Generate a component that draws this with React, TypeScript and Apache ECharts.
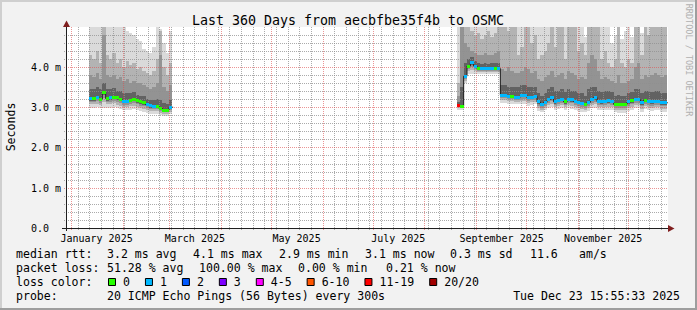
import React, { useEffect, useRef } from "react";
import * as echarts from "echarts";

// ---------- time frame ----------
const END_TIME = Date.UTC(2025, 11, 23, 15, 55, 33);
const RANGE_DAYS = 360;
const START_TIME = END_TIME - RANGE_DAYS * 86400000;
const dayOf = (y: number, m: number, d: number) => (Date.UTC(y, m, d) - START_TIME) / 86400000;

const BIN_DAYS = 2;
const LEFT_START_DAY = 13.8;
const RIGHT_START_DAY = 234.6;

// ---------- data: first block (Jan - Feb 2025) ----------
const leftMedian = [3.22, 3.22, 3.25, 3.21, 3.38, 3.22, 3.24, 3.26, 3.24, 3.2, 3.15, 3.15, 3.18, 3.2, 3.17, 3.14, 3.12, 3.07, 3.04, 3.03, 3.03, 2.98, 2.94, 2.94, 3.01];
const leftLoss = [1, 0, 1, 0, 0, 0, 1, 0, 0, 0, 1, 1, 0, 0, 0, 0, 0, 1, 1, 1, 0, 0, 0, 0, 1];
const leftLo = [3.0, 3.0, 3.02, 2.98, 3.0, 3.0, 3.0, 3.02, 2.98, 2.97, 2.94, 2.93, 2.95, 2.97, 2.94, 2.92, 2.9, 2.86, 2.84, 2.84, 2.85, 2.82, 2.8, 2.8, 2.84];
const leftU4 = [3.45, 3.45, 3.5, 3.45, 3.6, 3.45, 3.45, 3.48, 3.42, 3.4, 3.35, 3.35, 3.35, 3.38, 3.32, 3.3, 3.28, 3.22, 3.2, 3.2, 3.22, 3.2, 3.12, 3.1, 3.18];
const leftU3 = [3.8, 3.75, 3.85, 3.7, 4.8, 3.8, 3.75, 3.8, 3.7, 3.75, 3.65, 3.7, 3.6, 3.65, 3.6, 3.6, 3.55, 3.5, 3.45, 3.5, 3.6, 4.3, 3.5, 3.4, 3.55];
const leftU2 = [4.3, 4.2, 4.4, 4.1, 5.0, 4.3, 4.2, 4.35, 4.1, 4.2, 4.0, 4.15, 4.05, 4.1, 3.95, 4.0, 3.9, 3.85, 3.8, 3.9, 4.2, 4.9, 4.0, 3.8, 4.1];
const leftU1 = [5, 5, 5, 5, 5, 5, 5, 5, 5, 5, 5, 4.9, 4.85, 4.8, 4.7, 4.65, 4.45, 4.4, 4.35, 4.5, 5, 4.95, 4.6, 4.35, 4.9];

// ---------- data: second block (late Aug - Dec 2025) ----------
const rightMedian = [
  3.05, 3.03, 3.78, 4.03, 4.11, 4.03, 3.97, 3.96, 3.97, 3.96, 3.97, 3.98, 3.97,
  3.31, 3.31, 3.28, 3.27, 3.26, 3.26, 3.3, 3.3, 3.24, 3.26, 3.28, 3.14, 3.07, 3.13, 3.2, 3.24, 3.14, 3.18,
  3.2, 3.14, 3.2, 3.19, 3.15, 3.12, 3.1, 3.08, 3.13, 3.2, 3.25, 3.15, 3.14, 3.15, 3.17, 3.16, 3.08, 3.07, 3.07, 3.08, 3.14, 3.17, 3.21, 3.2, 3.12, 3.18, 3.15, 3.14, 3.15, 3.15, 3.12, 3.12,
];
const rightLoss = [
  6, 0, 1, 0, 1, 1, 0, 1, 1, 1, 1, 0, 1,
  1, 1, 1, 0, 1, 1, 1, 1, 1, 1, 1, 1, 1, 1, 1, 1, 1, 1,
  1, 0, 1, 1, 1, 1, 1, 0, 1, 1, 1, 1, 1, 1, 1, 1, 0, 0, 0, 0, 1, 0, 1, 1, 1, 0, 1, 1, 1, 1, 1, 1,
];
const rightLo = [
  2.95, 2.95, 3.6, 3.83, 3.83, 3.83, 3.83, 3.83, 3.83, 3.83, 3.83, 3.83, 3.83,
  3.12, 3.12, 3.1, 3.1, 3.08, 3.08, 3.1, 3.1, 3.05, 3.06, 3.08, 2.92, 2.88, 2.93, 2.98, 3.02, 2.94, 2.96,
  2.98, 2.94, 2.98, 2.97, 2.94, 2.92, 2.9, 2.88, 2.92, 2.98, 3.0, 2.94, 2.93, 2.94, 2.95, 2.95, 2.88, 2.86, 2.86, 2.87, 2.92, 2.95, 2.98, 2.98, 2.9, 2.96, 2.93, 2.92, 2.93, 2.93, 2.9, 2.9,
];
const rightU4 = [
  3.15, 3.5, 4.1, 4.2, 4.25, 4.15, 4.1, 4.08, 4.1, 4.08, 4.1, 4.1, 4.1,
  3.55, 3.55, 3.5, 3.5, 3.5, 3.5, 3.55, 3.55, 3.5, 3.5, 3.5, 3.35, 3.3, 3.35, 3.45, 3.5, 3.4, 3.42,
  3.45, 3.38, 3.45, 3.42, 3.4, 3.35, 3.35, 3.3, 3.45, 3.5, 3.5, 3.4, 3.38, 3.4, 3.4, 3.38, 3.3, 3.32, 3.3, 3.3, 3.35, 3.38, 3.45, 3.45, 3.35, 3.42, 3.4, 3.38, 3.4, 3.4, 3.36, 3.36,
];
const rightU3 = [
  3.3, 5.0, 4.6, 4.5, 4.4, 4.35, 4.3, 4.3, 4.35, 4.3, 4.3, 4.35, 4.4,
  3.95, 3.9, 4.0, 3.9, 3.85, 3.85, 3.9, 4.0, 3.95, 3.85, 3.9, 3.7, 3.65, 3.75, 3.8, 3.9, 3.75, 3.8,
  3.85, 3.7, 3.9, 3.85, 3.8, 3.7, 3.75, 3.7, 4.1, 4.3, 4.2, 3.9, 3.7, 3.75, 3.7, 3.65, 3.6, 3.8, 3.6, 3.6, 3.65, 3.7, 4.0, 4.1, 3.7, 3.8, 3.75, 3.8, 3.85, 3.8, 3.75, 3.8,
];
const rightU2 = [
  3.6, 5.0, 5.0, 5.0, 4.9, 4.8, 4.85, 4.7, 4.8, 4.9, 4.75, 4.85, 5.0,
  5.0, 5.0, 4.9, 5.0, 5.0, 4.3, 4.5, 5.0, 5.0, 4.6, 4.8, 4.2, 4.3, 4.4, 4.6, 5.0, 4.5, 5.0,
  5.0, 4.2, 5.0, 5.0, 5.0, 4.4, 4.6, 4.3, 5.0, 5.0, 5.0, 5.0, 4.2, 4.4, 4.1, 4.0, 4.2, 5.0, 4.1, 4.0, 4.2, 4.1, 5.0, 5.0, 4.3, 5.0, 4.8, 5.0, 5.0, 5.0, 5.0, 5.0,
];
const rightU1 = [
  5, 5, 5, 5, 5, 5, 5, 5, 5, 5,
  5, 5, 5, 5, 5, 5, 5, 5, 5, 5,
  5, 5, 5, 5, 5, 5, 5, 5, 5, 5,
  5, 5, 5, 5, 5, 5, 5, 5, 4.75, 4.85,
  5, 5, 5, 5, 5, 5, 4.6, 4.8, 5, 4.7,
  4.9, 5, 4.75, 5, 5, 4.85, 5, 5, 5, 5,
  5, 5, 5,
];

// ---------- labels ----------
const TITLE = "Last 360 Days from aecbfbe35f4b to OSMC";
const Y_NAME = "Seconds";
const WATERMARK = "RRDTOOL / TOBI OETIKER";
const Y_TICKS = [0, 1, 2, 3, 4];
const MONTH_LABELS = [
  { text: "January 2025", m: 0 },
  { text: "March 2025", m: 2 },
  { text: "May 2025", m: 4 },
  { text: "July 2025", m: 6 },
  { text: "September 2025", m: 8 },
  { text: "November 2025", m: 10 },
];
const MEDIAN_STATS = ["median rtt:", "3.2 ms avg", "4.1 ms max", "2.9 ms min", "3.1 ms now", "0.3 ms sd", "11.6", "am/s"];
const LOSS_STATS = ["packet loss:", "51.28 % avg", "100.00 % max", "0.00 % min", "0.21 % now"];
const LOSS_TITLE = "loss color:";
const LOSS_CLASSES = ["0", "1", "2", "3", "4-5", "6-10", "11-19", "20/20"];
const LOSS_COLORS = ["#26ff00", "#00b8ff", "#0059ff", "#7e00ff", "#ff00ff", "#ff5500", "#ff0000", "#a10000"];
const PROBE_STATS = ["probe:", "20 ICMP Echo Pings (56 Bytes) every 300s"];
const DATE_TEXT = "Tue Dec 23 15:55:33 2025";

// ---------- styles ----------
const MONO = "DejaVu Sans Mono";
const SMOKE = ["#dadada", "#b3b3b3", "#939393", "#626262"];
const GRID_MINOR = "rgba(143,143,143,0.75)";
const GRID_MAJOR = "rgba(222,79,79,0.6)";
const X_MAX = 361.2;

type Bin = { s: number; e: number; m: number; loss: number; lo: number; u4: number; u3: number; u2: number; u1: number };

function makeBins(start: number, med: number[], loss: number[], lo: number[], u4: number[], u3: number[], u2: number[], u1: number[]): Bin[] {
  return med.map((m, i) => ({
    s: start + i * BIN_DAYS,
    e: start + (i + 1) * BIN_DAYS,
    m,
    loss: loss[i],
    lo: lo[i],
    u4: u4[i],
    u3: u3[i],
    u2: u2[i],
    u1: u1[i],
  }));
}

export default function App() {
  const ref = useRef<HTMLDivElement>(null);

  useEffect(() => {
    if (!ref.current) return;
    const chart = echarts.init(ref.current, null, { renderer: "svg", width: 697, height: 310 });

    const segments = [
      makeBins(LEFT_START_DAY, leftMedian, leftLoss, leftLo, leftU4, leftU3, leftU2, leftU1),
      makeBins(RIGHT_START_DAY, rightMedian, rightLoss, rightLo, rightU4, rightU3, rightU2, rightU1),
    ];
    const bins = segments.flat();

    const smokeData = bins.map((b) => [b.s, b.e, b.lo, b.u1, b.u2, b.u3, b.u4, b.m]);
    const medRectData = bins.map((b) => [b.s, b.e, b.m, b.loss]);
    const medLine: any[] = [];
    segments.forEach((seg) => {
      seg.forEach((b) => medLine.push([b.s, b.m]));
      const last = seg[seg.length - 1];
      medLine.push([last.e, last.m]);
      medLine.push([last.e + 0.5, null]);
    });

    // grid lines
    const monthStarts: number[] = [];
    for (let m = 0; m < 12; m++) monthStarts.push(dayOf(2025, m, 1));
    const weekly: number[] = [];
    for (let d = dayOf(2024, 11, 29); d < X_MAX; d += 7) {
      if (!monthStarts.some((ms) => Math.abs(ms - d) < 0.01)) weekly.push(d);
    }
    const minorY: number[] = [];
    for (let k = 1; k < 25; k++) if (k % 5 !== 0) minorY.push(k / 5);
    const gridData: number[][] = [
      ...weekly.map((d) => [0, d, 0]),
      ...minorY.map((v) => [1, v, 0]),
      ...monthStarts.map((d) => [0, d, 1]),
      ...[1, 2, 3, 4].map((v) => [1, v, 1]),
    ];

    const labelDays = MONTH_LABELS.map((l) => dayOf(2025, l.m, 16));

    // legend graphics
    const g: any[] = [];
    const txt = (text: string, x: number, y: number, size: number, extra: any = {}) => ({
      type: "text",
      x,
      y,
      z: 50,
      silent: true,
      ...extra,
      style: { text, fill: "#000", fontFamily: MONO, fontSize: size, align: "left", verticalAlign: "middle", ...(extra.style || {}) },
    });
    const LEG = 11.55;
    const CH = 6.95;
    const row1X = [16, 107, 193, 279, 365, 450, 530, 579];
    MEDIAN_STATS.forEach((t, i) => g.push(txt(t, row1X[i], 254, LEG)));
    const row2X = [16, 107, 199, 298, 386];
    LOSS_STATS.forEach((t, i) => g.push(txt(t, row2X[i], 268, LEG)));
    g.push(txt(LOSS_TITLE, 16, 282, LEG));
    let sx = 108;
    LOSS_CLASSES.forEach((lab, i) => {
      g.push({
        type: "rect",
        z: 50,
        silent: true,
        shape: { x: sx + 0.5, y: 278.5, width: 7, height: 7 },
        style: { fill: LOSS_COLORS[i], stroke: "#000", lineWidth: 1 },
      });
      const lx = sx + 15;
      g.push(txt(lab, lx, 282, LEG));
      sx = lx + lab.length * CH + 15;
    });
    const row4X = [16, 107];
    PROBE_STATS.forEach((t, i) => g.push(txt(t, row4X[i], 296, LEG)));
    g.push(txt(DATE_TEXT, 680, 296, LEG, { style: { align: "right" } }));

    // title, axis name, watermark
    g.push(txt(TITLE, 348, 20, 13.3, { style: { align: "center" } }));
    g.push(txt(Y_NAME, 11, 127, 11.55, { rotation: Math.PI / 2, style: { align: "center" } }));
    g.push(txt(WATERMARK, 688.5, 60, 8.5, { rotation: -Math.PI / 2, style: { align: "center", fill: "#b0b0b0" } }));

    // frame
    g.push({ type: "rect", z: 60, silent: true, shape: { x: 0, y: 0, width: 697, height: 2 }, style: { fill: "#cfcfcf" } });
    g.push({ type: "rect", z: 60, silent: true, shape: { x: 0, y: 0, width: 2, height: 310 }, style: { fill: "#cfcfcf" } });
    g.push({ type: "rect", z: 61, silent: true, shape: { x: 0, y: 308, width: 697, height: 2 }, style: { fill: "#9e9e9e" } });
    g.push({ type: "rect", z: 61, silent: true, shape: { x: 695, y: 0, width: 2, height: 310 }, style: { fill: "#9e9e9e" } });

    // axes lines + arrows
    g.push({ type: "line", z: 40, silent: true, shape: { x1: 62, y1: 228.5, x2: 669, y2: 228.5 }, style: { stroke: "#1f1f1f", lineWidth: 1 } });
    g.push({ type: "line", z: 40, silent: true, shape: { x1: 66.5, y1: 231, x2: 66.5, y2: 25 }, style: { stroke: "#1f1f1f", lineWidth: 1 } });
    g.push({ type: "polygon", z: 41, silent: true, shape: { points: [[668, 225], [674.5, 228.5], [668, 232]] }, style: { fill: "#801f1f" } });
    g.push({ type: "polygon", z: 41, silent: true, shape: { points: [[63, 27], [66.5, 20.5], [70, 27]] }, style: { fill: "#801f1f" } });

    const option: any = {
      animation: false,
      backgroundColor: "#f2f2f2",
      grid: {
        left: 66,
        top: 27,
        width: 602,
        height: 201.5,
        show: true,
        backgroundColor: "#ffffff",
        borderWidth: 0,
        containLabel: false,
        outerBoundsMode: "none",
      },
      xAxis: {
        type: "value",
        min: 0,
        max: X_MAX,
        axisLine: { show: false },
        axisTick: { show: false },
        splitLine: { show: false },
        axisLabel: {
          customValues: labelDays,
          formatter: (v: number) => {
            const i = labelDays.findIndex((d) => Math.abs(d - v) < 1e-6);
            return i >= 0 ? MONTH_LABELS[i].text : "";
          },
          fontFamily: MONO,
          fontSize: 10,
          lineHeight: 10,
          color: "#000",
          margin: 5,
        },
      },
      yAxis: {
        type: "value",
        min: 0,
        max: 5,
        interval: 1,
        axisLine: { show: false },
        axisTick: { show: false },
        splitLine: { show: false },
        axisLabel: {
          showMaxLabel: false,
          formatter: (v: number) => (Y_TICKS.includes(v) ? (v === 0 ? "0.0\u00a0\u00a0" : v.toFixed(1) + " m") : ""),
          fontFamily: MONO,
          fontSize: 10,
          color: "#000",
          margin: 5,
        },
      },
      series: [
        {
          type: "custom",
          name: "smoke",
          z: 2,
          clip: true,
          silent: true,
          data: smokeData,
          encode: { x: [0, 1], y: [2, 3] },
          renderItem: (params: any, api: any) => {
            const s = api.value(0), e = api.value(1), lo = api.value(2);
            const u1 = api.value(3), u2 = api.value(4), u3 = api.value(5), u4 = api.value(6), m = api.value(7);
            const x0 = Math.round(api.coord([s, 0])[0]);
            const x1 = Math.round(api.coord([e, 0])[0]);
            const Y = (v: number) => Math.round(api.coord([s, v])[1]);
            const band = (a: number, b: number, fill: string) => {
              const ya = Y(a), yb = Y(b);
              return { type: "rect", shape: { x: x0, y: yb, width: x1 - x0, height: Math.max(0, ya - yb) }, style: { fill } };
            };
            return {
              type: "group",
              children: [
                band(lo, u1, SMOKE[0]),
                band(lo + 0.35 * (m - lo), u2, SMOKE[1]),
                band(lo + 0.6 * (m - lo), u3, SMOKE[2]),
                band(lo + 0.8 * (m - lo), u4, SMOKE[3]),
              ],
            };
          },
        },
        {
          type: "custom",
          name: "grid",
          z: 3,
          clip: false,
          silent: true,
          data: gridData,
          renderItem: (params: any, api: any) => {
            const cs = params.coordSys;
            const orient = api.value(0), v = api.value(1), major = api.value(2);
            const stroke = major ? GRID_MAJOR : GRID_MINOR;
            if (orient === 0) {
              const x = Math.floor(api.coord([v, 0])[0]) + 0.5;
              return { type: "line", shape: { x1: x, y1: cs.y, x2: x, y2: cs.y + cs.height + 2 }, style: { stroke, lineWidth: 1, lineDash: [1, 1] } };
            }
            const y = Math.floor(api.coord([0, v])[1]) + 0.5;
            return { type: "line", shape: { x1: cs.x - 2, y1: y, x2: cs.x + cs.width, y2: y }, style: { stroke, lineWidth: 1, lineDash: [1, 1] } };
          },
        },
        {
          type: "line",
          name: "median",
          z: 4,
          silent: true,
          step: "end",
          symbol: "none",
          showSymbol: false,
          connectNulls: false,
          lineStyle: { color: "#202020", width: 1 },
          data: medLine,
        },
        {
          type: "custom",
          name: "median loss",
          z: 5,
          clip: true,
          silent: true,
          data: medRectData,
          encode: { x: [0, 1], y: 2 },
          renderItem: (params: any, api: any) => {
            const s = api.value(0), e = api.value(1), m = api.value(2), loss = api.value(3);
            const x0 = Math.round(api.coord([s, 0])[0]);
            const x1 = Math.round(api.coord([e, 0])[0]);
            const yc = api.coord([s, m])[1];
            return { type: "rect", shape: { x: x0, y: Math.round(yc - 1.5), width: x1 - x0, height: 3 }, style: { fill: LOSS_COLORS[loss] } };
          },
        },
      ],
      graphic: { elements: g },
    };

    chart.setOption(option);
    return () => chart.dispose();
  }, []);

  return (
    <div style={{ position: "fixed", left: 0, top: 0, width: 697, height: 310, background: "#f2f2f2" }}>
      <div ref={ref} style={{ width: 697, height: 310 }} />
    </div>
  );
}
